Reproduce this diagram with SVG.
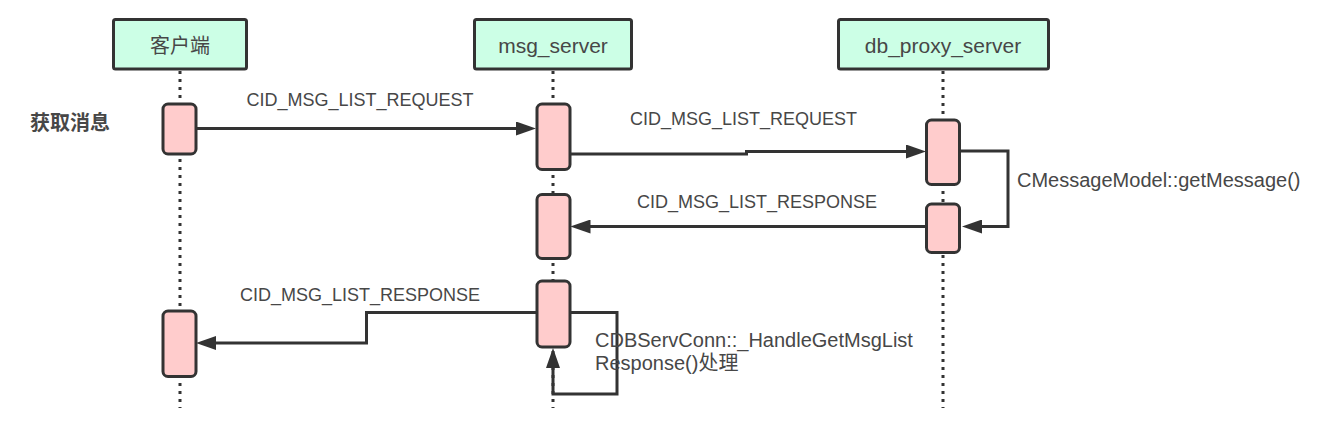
<svg xmlns="http://www.w3.org/2000/svg" width="1328" height="442" viewBox="0 0 1328 442">
<defs>
<marker id="ah" markerUnits="userSpaceOnUse" markerWidth="20" markerHeight="14" refX="10" refY="7" orient="auto">
<path d="M0,0 L20,7 L0,14 Z" fill="#333"/>
</marker>
<style>
.hdr{fill:#ccffe6;stroke:#333;stroke-width:3}
.act{fill:#ffcccc;stroke:#333;stroke-width:3}
.life{stroke:#333;stroke-width:3;stroke-dasharray:3 5;fill:none}
.con{stroke:#333;stroke-width:3;fill:none;marker-end:url(#ah)}
.t{font-family:"Liberation Sans","Noto Sans CJK SC",sans-serif;fill:#474747}
.ht{font-size:21px;text-anchor:middle}
.lbl{font-size:18px}
.note{font-size:20px}
</style>
</defs>
<rect width="1328" height="442" fill="#fff"/>
<g id="lifelines">
<line class="life" x1="180" y1="71" x2="180" y2="408"/>
<line class="life" x1="553" y1="71" x2="553" y2="408"/>
<line class="life" x1="943" y1="71" x2="943" y2="408"/>
</g>
<g id="node-client">
<rect class="hdr" x="113.5" y="19.5" width="133" height="49.5" rx="2"/>
<text class="t" x="180" y="53" font-size="20" text-anchor="middle" font-family="'Noto Sans CJK SC',sans-serif">客户端</text>
</g>
<g id="node-msg-server">
<rect class="hdr" x="474.5" y="19.5" width="157" height="49.5" rx="2"/>
<text class="t ht" x="553" y="53">msg_server</text>
</g>
<g id="node-db-proxy">
<rect class="hdr" x="838.5" y="19.5" width="210" height="49.5" rx="2"/>
<text class="t ht" x="943" y="53">db_proxy_server</text>
</g>
<g id="activations">
<rect class="act" x="163" y="104" width="33" height="50" rx="5"/>
<rect class="act" x="163" y="311" width="33" height="65.5" rx="5"/>
<rect class="act" x="537" y="104" width="33" height="65.5" rx="5"/>
<rect class="act" x="537" y="194.5" width="33" height="64" rx="5"/>
<rect class="act" x="537" y="281" width="33" height="66" rx="5"/>
<rect class="act" x="926.5" y="120" width="33" height="64.5" rx="5"/>
<rect class="act" x="926.5" y="204" width="33" height="48.5" rx="5"/>
</g>
<g id="connectors">
<path class="con" d="M196,128.5 H526"/>
<path class="con" d="M570,154 H746.5 V151.5 H916"/>
<path class="con" d="M959.5,151 H1008 V226.5 H972"/>
<path class="con" d="M926.5,226.5 H580.5"/>
<path class="con" d="M537,312.5 H366.5 V343 H206"/>
<path class="con" d="M570,312.5 H617 V394 H553 V358"/>
</g>
<g id="labels">
<text class="t" x="30" y="130" font-size="20" font-weight="bold" font-family="'Noto Sans CJK SC',sans-serif">获取消息</text>
<text class="t lbl" x="246.5" y="106">CID_MSG_LIST_REQUEST</text>
<text class="t lbl" x="630" y="125">CID_MSG_LIST_REQUEST</text>
<text class="t lbl" x="637" y="208">CID_MSG_LIST_RESPONSE</text>
<text class="t lbl" x="240" y="300.5">CID_MSG_LIST_RESPONSE</text>
<text class="t note" x="1017" y="187">CMessageModel::getMessage()</text>
<text class="t note" x="595" y="347">CDBServConn::_HandleGetMsgList</text>
<text class="t note" x="595" y="370">Response()处理</text>
</g>
</svg>
